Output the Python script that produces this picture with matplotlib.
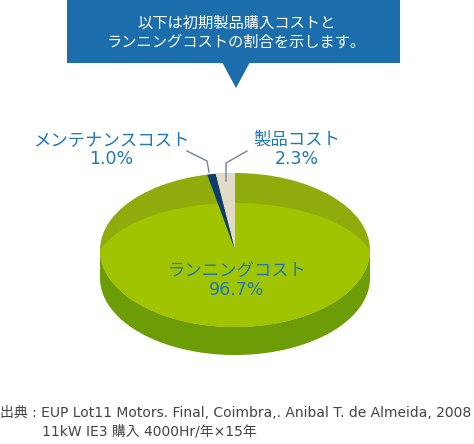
import numpy as np
import matplotlib.pyplot as plt
from matplotlib.patches import Polygon, Ellipse, Rectangle

plt.rcParams['font.family'] = ['Noto Sans CJK JP', 'DejaVu Sans']
latin_first = ['DejaVu Sans', 'Noto Sans CJK JP']

# データ
labels = ['製品コスト', 'メンテナンスコスト', 'ランニングコスト']
values = [2.3, 1.0, 96.7]
pct_labels = ['2.3%', '1.0%', '96.7%']
colors = ['#e2dcc6', '#0f3b6e', '#a0c400']

title_lines = ['以下は初期製品購入コストと', 'ランニングコストの割合を示します。']
source_lines = ['出典 : EUP Lot11 Motors. Final, Coimbra,. Anibal T. de Almeida, 2008',
                '11kW IE3 購入 4000Hr/年×15年']

# 円盤の形（ピクセル座標）
cx, cy = 235, 250
rx, ry = 135, 77
depth = 28

fig = plt.figure(figsize=(4.74, 4.44), dpi=100)
ax = fig.add_axes([0, 0, 1, 1])
ax.set_xlim(0, 474)
ax.set_ylim(444, 0)
ax.axis('off')


def arc(t0, t1, dy=0, n=120):
    t = np.radians(np.linspace(t0, t1, n))
    return np.column_stack([cx + rx * np.cos(t), cy - ry * np.sin(t) + dy])


# 側面
front = arc(180, 360)
side = np.vstack([front, arc(360, 180, dy=depth)])
ax.add_patch(Polygon(side, closed=True, facecolor='#6c9c06', edgecolor='none'))

# 上面（奥の濃い部分 + ハイライト）
top = Ellipse((cx, cy), 2 * rx, 2 * ry, facecolor='#8fab0c', edgecolor='none')
ax.add_patch(top)
hl = Ellipse((cx, cy + 18), 2 * rx + 10, 2 * ry - 24, facecolor=colors[2], edgecolor='none')
ax.add_patch(hl)
hl.set_clip_path(top)

# 小さい扇形（12時から反時計回り）
start = 90
for v, c in zip(values[:2], colors[:2]):
    ang = v / sum(values) * 360
    pts = np.vstack([[cx, cy], arc(start, start + ang, n=30)])
    ax.add_patch(Polygon(pts, closed=True, facecolor=c, edgecolor='none'))
    start += ang

# 引き出し線
line_c = '#6f84a0'
ax.plot([187, 207, 209], [151, 161, 172], color=line_c, lw=1)
ax.plot([247, 226, 226], [151, 163, 181], color=line_c, lw=1)

# ラベル
blue = '#1f78b8'
fs = 12.5
label_pos = [(297, 140), (111, 140), (237, 271)]
for name, pct, (x, y) in zip(labels, pct_labels, label_pos):
    ax.text(x, y, name, color=blue, fontsize=fs, ha='center', va='center')
    ax.text(x, y + 19, pct, color=blue, fontsize=fs, ha='center', va='center',
            family=latin_first)

# 吹き出し
box_c = '#1b6dac'
ax.add_patch(Rectangle((67, 0), 333, 63, facecolor=box_c, edgecolor='none'))
ax.add_patch(Polygon([[222, 62], [250, 62], [236, 88]], closed=True,
                     facecolor=box_c, edgecolor='none'))
ax.text(237, 23, title_lines[0], color='white', fontsize=11, ha='center', va='center')
ax.text(237, 42, title_lines[1], color='white', fontsize=11, ha='center', va='center')

# 出典
ax.text(0, 413, source_lines[0], color='#444444', fontsize=10, ha='left', va='center',
        family=latin_first)
ax.text(42, 431, source_lines[1], color='#444444', fontsize=10, ha='left', va='center',
        family=latin_first)

fig.savefig('out.png', dpi=100)
